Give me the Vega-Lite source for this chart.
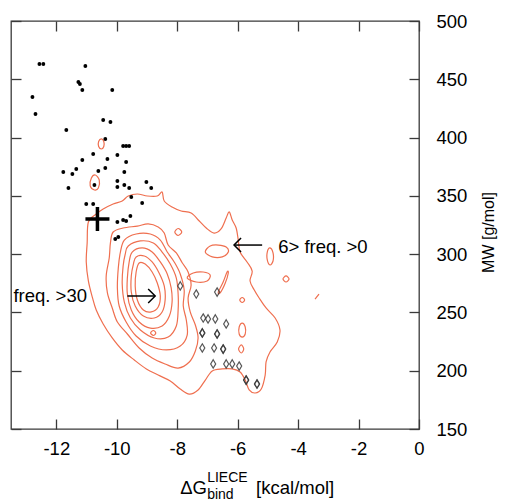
{
"$schema": "https://vega.github.io/schema/vega-lite/v6.json",
"width": 408, "height": 408,
"autosize": {"type": "none"},
"padding": {"left": 11, "top": 21, "right": 93, "bottom": 75},
"config": {
  "view": {"stroke": "#3a3a3a", "strokeWidth": 1.3},
  "axis": {"domain": false, "grid": false, "ticks": true, "tickSize": -10, "tickColor": "#3a3a3a", "tickWidth": 1.3,
           "labelFont": "Liberation Sans", "labelFontSize": 18.5, "labelColor": "#000",
           "titleFont": "Liberation Sans", "titleColor": "#000", "titleFontWeight": "normal"}
},
"datasets": {
  "contours": [
    {"c":"C1","i":1,"x":-10.94,"y":327.6},{"c":"C1","i":2,"x":-10.68,"y":334.4},{"c":"C1","i":3,"x":-10.45,"y":338.7},{"c":"C1","i":4,"x":-10.12,"y":343.0},
    {"c":"C1","i":5,"x":-9.82,"y":345.6},{"c":"C1","i":6,"x":-9.62,"y":349.9},{"c":"C1","i":7,"x":-9.32,"y":351.6},{"c":"C1","i":8,"x":-8.99,"y":349.9},
    {"c":"C1","i":9,"x":-8.66,"y":349.9},{"c":"C1","i":10,"x":-8.50,"y":353.3},{"c":"C1","i":11,"x":-8.43,"y":345.6},{"c":"C1","i":12,"x":-8.17,"y":340.4},
    {"c":"C1","i":13,"x":-7.87,"y":337.0},{"c":"C1","i":14,"x":-7.54,"y":335.3},{"c":"C1","i":15,"x":-7.27,"y":328.4},{"c":"C1","i":16,"x":-7.04,"y":322.4},
    {"c":"C1","i":17,"x":-6.78,"y":318.1},{"c":"C1","i":18,"x":-6.55,"y":321.6},{"c":"C1","i":19,"x":-6.38,"y":331.0},{"c":"C1","i":20,"x":-6.28,"y":336.2},
    {"c":"C1","i":21,"x":-6.18,"y":329.3},{"c":"C1","i":22,"x":-6.05,"y":322.4},{"c":"C1","i":23,"x":-5.98,"y":312.1},{"c":"C1","i":24,"x":-5.92,"y":301.8},
    {"c":"C1","i":25,"x":-5.69,"y":293.3},{"c":"C1","i":26,"x":-5.52,"y":285.5},{"c":"C1","i":27,"x":-5.59,"y":277.0},{"c":"C1","i":28,"x":-5.45,"y":269.2},
    {"c":"C1","i":29,"x":-5.29,"y":262.4},{"c":"C1","i":30,"x":-5.06,"y":253.8},{"c":"C1","i":31,"x":-4.76,"y":245.2},{"c":"C1","i":32,"x":-4.60,"y":234.9},
    {"c":"C1","i":33,"x":-4.69,"y":224.6},{"c":"C1","i":34,"x":-4.93,"y":216.1},{"c":"C1","i":35,"x":-5.06,"y":207.5},{"c":"C1","i":36,"x":-5.09,"y":196.3},
    {"c":"C1","i":37,"x":-5.22,"y":184.3},{"c":"C1","i":38,"x":-5.42,"y":180.9},{"c":"C1","i":39,"x":-5.62,"y":183.5},{"c":"C1","i":40,"x":-5.75,"y":192.0},
    {"c":"C1","i":41,"x":-5.92,"y":198.9},{"c":"C1","i":42,"x":-6.18,"y":201.5},{"c":"C1","i":43,"x":-6.51,"y":201.5},{"c":"C1","i":44,"x":-6.84,"y":199.8},
    {"c":"C1","i":45,"x":-7.07,"y":192.0},{"c":"C1","i":46,"x":-7.31,"y":183.5},{"c":"C1","i":47,"x":-7.60,"y":180.0},{"c":"C1","i":48,"x":-7.90,"y":184.3},
    {"c":"C1","i":49,"x":-8.23,"y":191.2},{"c":"C1","i":50,"x":-8.63,"y":196.3},{"c":"C1","i":51,"x":-9.02,"y":201.5},{"c":"C1","i":52,"x":-9.42,"y":209.2},
    {"c":"C1","i":53,"x":-9.82,"y":217.8},{"c":"C1","i":54,"x":-10.15,"y":228.1},{"c":"C1","i":55,"x":-10.45,"y":240.1},{"c":"C1","i":56,"x":-10.68,"y":252.1},
    {"c":"C1","i":57,"x":-10.81,"y":263.2},{"c":"C1","i":58,"x":-10.94,"y":277.0},{"c":"C1","i":59,"x":-11.01,"y":293.3},{"c":"C1","i":60,"x":-10.98,"y":309.6},

    {"c":"C2","i":1,"x":-10.12,"y":319.0},{"c":"C2","i":2,"x":-9.79,"y":322.4},{"c":"C2","i":3,"x":-9.32,"y":324.1},{"c":"C2","i":4,"x":-8.96,"y":325.9},
    {"c":"C2","i":5,"x":-8.63,"y":323.3},{"c":"C2","i":6,"x":-8.43,"y":318.1},{"c":"C2","i":7,"x":-8.30,"y":307.8},{"c":"C2","i":8,"x":-8.03,"y":301.0},
    {"c":"C2","i":9,"x":-7.83,"y":292.4},{"c":"C2","i":10,"x":-7.64,"y":284.7},{"c":"C2","i":11,"x":-7.54,"y":273.5},{"c":"C2","i":12,"x":-7.64,"y":262.4},
    {"c":"C2","i":13,"x":-7.57,"y":250.4},{"c":"C2","i":14,"x":-7.40,"y":239.2},{"c":"C2","i":15,"x":-7.31,"y":228.1},{"c":"C2","i":16,"x":-7.40,"y":216.9},
    {"c":"C2","i":17,"x":-7.60,"y":207.5},{"c":"C2","i":18,"x":-7.97,"y":202.3},{"c":"C2","i":19,"x":-8.40,"y":205.8},{"c":"C2","i":20,"x":-8.83,"y":210.9},
    {"c":"C2","i":21,"x":-9.26,"y":219.5},{"c":"C2","i":22,"x":-9.65,"y":231.5},{"c":"C2","i":23,"x":-9.98,"y":241.8},{"c":"C2","i":24,"x":-10.15,"y":253.8},
    {"c":"C2","i":25,"x":-10.31,"y":266.7},{"c":"C2","i":26,"x":-10.35,"y":281.3},{"c":"C2","i":27,"x":-10.25,"y":296.7},{"c":"C2","i":28,"x":-10.21,"y":309.6},

    {"c":"C3","i":1,"x":-9.75,"y":312.1},{"c":"C3","i":2,"x":-9.36,"y":317.3},{"c":"C3","i":3,"x":-8.89,"y":317.3},{"c":"C3","i":4,"x":-8.56,"y":312.1},
    {"c":"C3","i":5,"x":-8.33,"y":301.8},{"c":"C3","i":6,"x":-8.10,"y":293.3},{"c":"C3","i":7,"x":-7.90,"y":283.0},{"c":"C3","i":8,"x":-7.77,"y":269.2},
    {"c":"C3","i":9,"x":-7.80,"y":255.5},{"c":"C3","i":10,"x":-7.70,"y":243.5},{"c":"C3","i":11,"x":-7.67,"y":230.6},{"c":"C3","i":12,"x":-7.90,"y":221.2},
    {"c":"C3","i":13,"x":-8.36,"y":217.8},{"c":"C3","i":14,"x":-8.89,"y":221.2},{"c":"C3","i":15,"x":-9.36,"y":229.8},{"c":"C3","i":16,"x":-9.69,"y":241.8},
    {"c":"C3","i":17,"x":-9.92,"y":255.5},{"c":"C3","i":18,"x":-9.98,"y":271.0},{"c":"C3","i":19,"x":-9.95,"y":288.1},{"c":"C3","i":20,"x":-9.88,"y":301.8},

    {"c":"C4","i":1,"x":-9.62,"y":307.0},{"c":"C4","i":2,"x":-9.22,"y":311.3},{"c":"C4","i":3,"x":-8.79,"y":309.6},{"c":"C4","i":4,"x":-8.50,"y":301.8},
    {"c":"C4","i":5,"x":-8.23,"y":291.5},{"c":"C4","i":6,"x":-8.03,"y":279.5},{"c":"C4","i":7,"x":-7.97,"y":265.8},{"c":"C4","i":8,"x":-7.97,"y":252.1},
    {"c":"C4","i":9,"x":-8.03,"y":238.4},{"c":"C4","i":10,"x":-8.30,"y":228.9},{"c":"C4","i":11,"x":-8.76,"y":228.1},{"c":"C4","i":12,"x":-9.22,"y":234.9},
    {"c":"C4","i":13,"x":-9.55,"y":245.2},{"c":"C4","i":14,"x":-9.75,"y":258.9},{"c":"C4","i":15,"x":-9.82,"y":274.4},{"c":"C4","i":16,"x":-9.79,"y":289.8},
    {"c":"C4","i":17,"x":-9.72,"y":300.1},

    {"c":"C5","i":1,"x":-9.49,"y":301.8},{"c":"C5","i":2,"x":-9.16,"y":305.3},{"c":"C5","i":3,"x":-8.83,"y":301.8},{"c":"C5","i":4,"x":-8.56,"y":293.3},
    {"c":"C5","i":5,"x":-8.33,"y":283.0},{"c":"C5","i":6,"x":-8.20,"y":271.0},{"c":"C5","i":7,"x":-8.17,"y":258.9},{"c":"C5","i":8,"x":-8.26,"y":246.9},
    {"c":"C5","i":9,"x":-8.50,"y":238.4},{"c":"C5","i":10,"x":-8.89,"y":236.6},{"c":"C5","i":11,"x":-9.26,"y":241.8},{"c":"C5","i":12,"x":-9.52,"y":252.1},
    {"c":"C5","i":13,"x":-9.65,"y":265.8},{"c":"C5","i":14,"x":-9.65,"y":279.5},{"c":"C5","i":15,"x":-9.59,"y":293.3},

    {"c":"C6","i":1,"x":-9.36,"y":297.6},{"c":"C6","i":2,"x":-9.09,"y":298.4},{"c":"C6","i":3,"x":-8.83,"y":293.3},{"c":"C6","i":4,"x":-8.60,"y":283.8},
    {"c":"C6","i":5,"x":-8.43,"y":272.7},{"c":"C6","i":6,"x":-8.40,"y":260.7},{"c":"C6","i":7,"x":-8.50,"y":250.4},{"c":"C6","i":8,"x":-8.76,"y":245.2},
    {"c":"C6","i":9,"x":-9.12,"y":246.9},{"c":"C6","i":10,"x":-9.39,"y":255.5},{"c":"C6","i":11,"x":-9.52,"y":267.5},{"c":"C6","i":12,"x":-9.52,"y":281.3},
    {"c":"C6","i":13,"x":-9.45,"y":291.5},

    {"c":"C7","i":1,"x":-9.26,"y":292.4},{"c":"C7","i":2,"x":-9.06,"y":291.5},{"c":"C7","i":3,"x":-8.83,"y":284.7},{"c":"C7","i":4,"x":-8.66,"y":275.2},
    {"c":"C7","i":5,"x":-8.56,"y":264.1},{"c":"C7","i":6,"x":-8.63,"y":254.7},{"c":"C7","i":7,"x":-8.86,"y":250.4},{"c":"C7","i":8,"x":-9.12,"y":252.1},
    {"c":"C7","i":9,"x":-9.32,"y":260.7},{"c":"C7","i":10,"x":-9.39,"y":272.7},{"c":"C7","i":11,"x":-9.36,"y":284.7},

    {"c":"L1","i":1,"x":-10.51,"y":398.8},{"c":"L1","i":2,"x":-10.43,"y":396.6},{"c":"L1","i":3,"x":-10.43,"y":392.3},{"c":"L1","i":4,"x":-10.51,"y":390.2},{"c":"L1","i":5,"x":-10.60,"y":392.3},{"c":"L1","i":6,"x":-10.60,"y":396.6},
    {"c":"L2","i":1,"x":-10.71,"y":367.9},{"c":"L2","i":2,"x":-10.58,"y":363.6},{"c":"L2","i":3,"x":-10.61,"y":356.7},{"c":"L2","i":4,"x":-10.74,"y":355.0},{"c":"L2","i":5,"x":-10.88,"y":358.5},{"c":"L2","i":6,"x":-10.84,"y":365.3},
    {"c":"L3","i":1,"x":-7.07,"y":301.8},{"c":"L3","i":2,"x":-6.91,"y":307.0},{"c":"L3","i":3,"x":-6.64,"y":307.8},{"c":"L3","i":4,"x":-6.38,"y":306.1},{"c":"L3","i":5,"x":-6.31,"y":301.8},{"c":"L3","i":6,"x":-6.51,"y":297.6},{"c":"L3","i":7,"x":-6.84,"y":297.6},
    {"c":"L4","i":1,"x":-4.93,"y":305.3},{"c":"L4","i":2,"x":-4.83,"y":301.0},{"c":"L4","i":3,"x":-4.83,"y":294.1},{"c":"L4","i":4,"x":-4.93,"y":290.7},{"c":"L4","i":5,"x":-5.02,"y":295.0},{"c":"L4","i":6,"x":-5.02,"y":301.8},
    {"c":"L5","i":1,"x":-4.40,"y":281.3},{"c":"L5","i":2,"x":-4.30,"y":278.7},{"c":"L5","i":3,"x":-4.40,"y":276.1},{"c":"L5","i":4,"x":-4.50,"y":278.7},
    {"c":"L6","i":1,"x":-3.44,"y":261.5},{"c":"L6","i":2,"x":-3.31,"y":265.8},
    {"c":"L7","i":1,"x":-7.97,"y":322.0},{"c":"L7","i":2,"x":-7.85,"y":319.0},{"c":"L7","i":3,"x":-7.97,"y":316.0},{"c":"L7","i":4,"x":-8.08,"y":319.0},
    {"c":"L8","i":1,"x":-7.67,"y":279.5},{"c":"L8","i":2,"x":-7.47,"y":283.8},{"c":"L8","i":3,"x":-7.14,"y":284.7},{"c":"L8","i":4,"x":-6.91,"y":282.1},{"c":"L8","i":5,"x":-7.01,"y":277.0},{"c":"L8","i":6,"x":-7.37,"y":276.1},
    {"c":"L9","i":1,"x":-6.35,"y":284.7},{"c":"L9","i":2,"x":-6.48,"y":276.1},{"c":"L9","i":3,"x":-6.64,"y":267.5},{"c":"L9","i":4,"x":-6.58,"y":266.7},{"c":"L9","i":5,"x":-6.41,"y":275.2},{"c":"L9","i":6,"x":-6.31,"y":283.8},
    {"c":"L10a","i":1,"x":-5.85,"y":262.8},{"c":"L10a","i":2,"x":-5.77,"y":260.7},{"c":"L10a","i":3,"x":-5.85,"y":258.5},{"c":"L10a","i":4,"x":-5.93,"y":260.7},
    {"c":"L10b","i":1,"x":-5.85,"y":240.9},{"c":"L10b","i":2,"x":-5.75,"y":237.5},{"c":"L10b","i":3,"x":-5.75,"y":231.5},{"c":"L10b","i":4,"x":-5.85,"y":228.9},{"c":"L10b","i":5,"x":-5.95,"y":231.5},{"c":"L10b","i":6,"x":-5.95,"y":237.5},
    {"c":"L10c","i":1,"x":-5.88,"y":222.1},{"c":"L10c","i":2,"x":-5.80,"y":218.6},{"c":"L10c","i":3,"x":-5.88,"y":215.2},{"c":"L10c","i":4,"x":-5.97,"y":218.6},
    {"c":"L11","i":1,"x":-8.79,"y":234.5},{"c":"L11","i":2,"x":-8.71,"y":232.4},{"c":"L11","i":3,"x":-8.79,"y":230.2},{"c":"L11","i":4,"x":-8.88,"y":232.4}
  ],
  "dots": [
    {"x":-12.56,"y":463.1},{"x":-12.43,"y":463.1},{"x":-11.04,"y":461.4},{"x":-11.27,"y":447.7},{"x":-11.22,"y":446.0},
    {"x":-11.14,"y":440.8},{"x":-10.15,"y":440.8},{"x":-12.79,"y":434.8},{"x":-12.69,"y":420.2},{"x":-10.45,"y":415.1},
    {"x":-10.21,"y":413.4},{"x":-11.67,"y":406.5},{"x":-10.38,"y":398.8},{"x":-9.79,"y":392.8},{"x":-9.69,"y":392.8},
    {"x":-9.59,"y":392.8},{"x":-10.78,"y":385.9},{"x":-11.14,"y":380.8},{"x":-10.31,"y":381.6},{"x":-9.98,"y":385.1},
    {"x":-9.69,"y":379.0},{"x":-11.77,"y":370.5},{"x":-11.47,"y":368.8},{"x":-11.34,"y":373.0},{"x":-10.61,"y":371.3},
    {"x":-10.38,"y":373.9},{"x":-9.75,"y":370.5},{"x":-11.60,"y":356.7},{"x":-10.74,"y":359.3},{"x":-9.98,"y":362.7},
    {"x":-9.98,"y":357.6},{"x":-9.75,"y":359.3},{"x":-9.59,"y":356.7},{"x":-9.02,"y":361.9},{"x":-8.86,"y":356.7},
    {"x":-9.52,"y":349.0},{"x":-9.16,"y":343.9},{"x":-11.01,"y":343.0},{"x":-10.78,"y":343.0},{"x":-9.98,"y":327.6},
    {"x":-9.79,"y":329.3},{"x":-9.69,"y":328.4},{"x":-9.55,"y":332.7},{"x":-10.05,"y":313.0},{"x":-9.95,"y":314.7}
  ],
  "diamonds": [
    {"x":-7.90,"y":272.7},{"x":-7.37,"y":265.8},{"x":-6.68,"y":267.5},{"x":-7.14,"y":245.2},{"x":-6.98,"y":244.4},
    {"x":-6.74,"y":244.4},{"x":-6.38,"y":240.1},{"x":-7.17,"y":232.4},{"x":-7.17,"y":232.4},{"x":-6.68,"y":231.5},
    {"x":-6.68,"y":231.5},{"x":-7.17,"y":219.5},{"x":-6.78,"y":219.5},{"x":-6.48,"y":218.6},{"x":-6.48,"y":218.6},
    {"x":-6.81,"y":205.8},{"x":-6.38,"y":205.8},{"x":-6.18,"y":205.8},{"x":-5.95,"y":204.0},{"x":-5.72,"y":192.0},
    {"x":-5.72,"y":192.0},{"x":-5.36,"y":188.6},{"x":-5.36,"y":188.6}
  ],
  "plus": [{"x":-10.64,"y":330.1}],
  "arrows": [
    {"x":-9.65,"x2":-8.73,"y":264.1,"dir":"right"},
    {"x":-5.19,"x2":-6.12,"y":307.8,"dir":"left"}
  ],
  "notes": [
    {"x":-13.42,"y":258.9,"t":"freq. >30"},
    {"x":-4.66,"y":301.0,"t":"6> freq. >0"}
  ],
  "xtitle": [
    {"x":-7.90,"y":94.2,"t":"ΔG","part":"main"},
    {"x":-5.39,"y":94.2,"t":"[kcal/mol]","part":"main"},
    {"x":-7.01,"y":104.5,"t":"LIECE","part":"small"},
    {"x":-7.01,"y":90.0,"t":"bind","part":"small"}
  ]
},
"encoding": {
  "x": {"field":"x","type":"quantitative","scale":{"domain":[-13.5,0],"nice":false,"zero":false},"axis":null},
  "y": {"field":"y","type":"quantitative","scale":{"domain":[150,500],"nice":false,"zero":false},"axis":null}
},
"layer": [
  {
    "data": {"name":"contours"},
    "mark": {"type":"line","interpolate":"cardinal-closed","stroke":"#ef6f4f","strokeWidth":1.2},
    "encoding": {
      "x": {"field":"x","type":"quantitative","scale":{"domain":[-13.5,0],"nice":false,"zero":false},
            "axis":{"orient":"bottom","values":[-12,-10,-8,-6,-4,-2,0],"labelExpr":"'' + datum.value","labelPadding":20,"labelFlush":false,"labelBaseline":"top","title":null}},
      "y": {"field":"y","type":"quantitative","scale":{"domain":[150,500],"nice":false,"zero":false},
            "axis":{"orient":"right","values":[150,200,250,300,350,400,450,500],"labelPadding":27,"labelFlush":false,
                    "title":"MW [g/mol]","titleAngle":270,"titleX":69,"titleY":211,"titleAlign":"center","titleBaseline":"middle","titleFontSize":16}},
      "detail": {"field":"c"},
      "order": {"field":"i","type":"quantitative"}
    }
  },
  {
    "data": {"name":"dots"},
    "mark": {"type":"point","filled":true,"color":"#000","size":15,"opacity":1},
    "encoding": {
      "x": {"field":"x","type":"quantitative","scale":{"domain":[-13.5,0],"nice":false,"zero":false},
            "axis":{"orient":"top","values":[-12,-10,-8,-6,-4,-2,0],"labels":false,"title":null}},
      "y": {"field":"y","type":"quantitative","scale":{"domain":[150,500],"nice":false,"zero":false},
            "axis":{"orient":"left","values":[150,200,250,300,350,400,450,500],"labels":false,"title":null}}
    }
  },
  {
    "data": {"name":"diamonds"},
    "mark": {"type":"point","filled":false,"shape":"M0,-1L0.6,0L0,1L-0.6,0Z","size":70,"stroke":"#3a3a3a","strokeWidth":1.2,"opacity":0.85}
  },
  {
    "data": {"name":"plus"},
    "mark": {"type":"point","filled":false,"shape":"M-1,0L1,0M0,-1L0,1","size":576,"stroke":"#000","strokeWidth":3.5,"opacity":1}
  },
  {
    "data": {"name":"arrows"},
    "mark": {"type":"rule","color":"#000","strokeWidth":1.5},
    "encoding": {"x2": {"field":"x2"}}
  },
  {
    "data": {"name":"arrows"},
    "transform": [{"filter":"datum.dir === 'right'"}],
    "mark": {"type":"point","filled":false,"shape":"M-1,-1L0,0L-1,1","size":196,"stroke":"#000","strokeWidth":1.5,"opacity":1},
    "encoding": {"x": {"field":"x2","type":"quantitative","axis":null}}
  },
  {
    "data": {"name":"arrows"},
    "transform": [{"filter":"datum.dir === 'left'"}],
    "mark": {"type":"point","filled":false,"shape":"M1,-1L0,0L1,1","size":196,"stroke":"#000","strokeWidth":1.5,"opacity":1},
    "encoding": {"x": {"field":"x2","type":"quantitative","axis":null}}
  },
  {
    "data": {"name":"notes"},
    "mark": {"type":"text","align":"left","baseline":"alphabetic","font":"Liberation Sans","fontSize":18.5,"color":"#000"},
    "encoding": {"text": {"field":"t"}}
  },
  {
    "data": {"name":"xtitle"},
    "transform": [{"filter":"datum.part === 'main'"}],
    "mark": {"type":"text","align":"left","baseline":"alphabetic","font":"Liberation Sans","fontSize":18.5,"color":"#000"},
    "encoding": {"text": {"field":"t"}}
  },
  {
    "data": {"name":"xtitle"},
    "transform": [{"filter":"datum.part === 'small'"}],
    "mark": {"type":"text","align":"left","baseline":"alphabetic","font":"Liberation Sans","fontSize":14,"color":"#000"},
    "encoding": {"text": {"field":"t"}}
  }
],
"resolve": {"axis": {"x":"independent","y":"independent"}}
}
